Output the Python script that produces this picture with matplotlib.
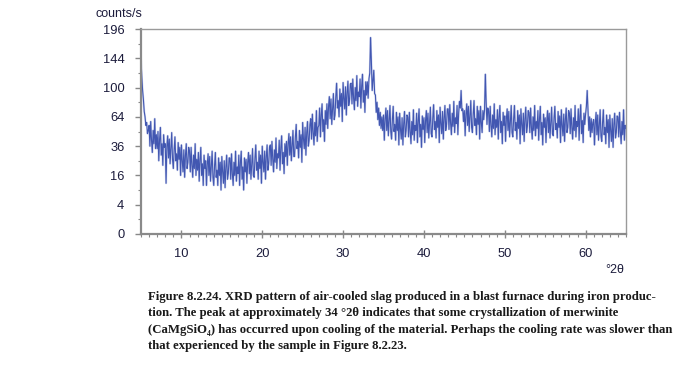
import numpy as np
import matplotlib
matplotlib.use("Agg")
import matplotlib.pyplot as plt
from matplotlib.scale import FuncScale

# ---- data (counts/s, 0.1 deg steps from 5.0 to 65.0) ----
two_theta_start = 5.0
two_theta_step = 0.1
counts = [
    142, 115, 96, 84, 70, 64, 55, 58, 47, 50,        # 5
    55, 36, 59, 41, 31, 50, 38, 62, 34, 46,          # 6
    34, 49, 25, 42, 53, 29, 38, 22, 46, 35,          # 7
    38, 12, 36, 45, 27, 42, 23, 35, 48, 26,          # 8
    20, 33, 44, 25, 30, 19, 39, 26, 35, 16,          # 9
    37, 25, 18, 33, 15, 29, 38, 20, 24, 35,          # 10
    32, 18, 35, 22, 15, 29, 20, 38, 16, 26,          # 11
    19, 31, 13, 26, 35, 16, 23, 11, 29, 20,          # 12
    25, 11, 23, 30, 16, 28, 13, 22, 32, 15,          # 13
    11, 22, 31, 15, 19, 11, 27, 16, 24, 9,           # 14
    28, 18, 12, 25, 10, 21, 29, 14, 17, 27,          # 15
    27, 14, 30, 17, 11, 24, 16, 32, 13, 21,          # 16
    17, 29, 11, 24, 32, 14, 21, 9, 27, 18,           # 17
    26, 12, 24, 31, 17, 29, 14, 23, 34, 16,          # 18
    15, 27, 37, 19, 24, 14, 32, 20, 29, 12,          # 19
    36, 24, 18, 32, 14, 28, 37, 19, 23, 35,          # 20
    37, 22, 40, 26, 18, 33, 24, 43, 20, 30,          # 21
    27, 41, 19, 35, 45, 23, 31, 17, 38, 28,          # 22
    40, 22, 38, 47, 29, 44, 25, 37, 50, 28,          # 23
    28, 44, 56, 34, 40, 27, 50, 35, 46, 24,          # 24
    58, 42, 34, 53, 29, 48, 59, 36, 41, 56,          # 25
    62, 42, 67, 48, 37, 58, 45, 71, 40, 53,          # 26
    55, 74, 44, 66, 79, 49, 61, 40, 71, 56,          # 27
    79, 52, 76, 88, 62, 85, 56, 74, 92, 61,          # 28
    66, 88, 106, 74, 83, 64, 98, 76, 92, 59,         # 29
    107, 86, 73, 101, 66, 93, 109, 77, 84, 105,      # 30
    106, 79, 112, 86, 72, 100, 83, 117, 76, 94,      # 31
    88, 112, 74, 102, 119, 81, 96, 69, 108, 90,      # 32
    108, 86, 112, 121, 180, 139, 96, 110, 125, 92,   # 33
    90, 69, 81, 61, 74, 55, 69, 52, 64, 50,          # 34
    66, 41, 62, 74, 50, 71, 45, 61, 77, 49,          # 35
    42, 61, 76, 49, 56, 41, 69, 50, 64, 37,          # 36
    68, 51, 42, 63, 37, 57, 70, 44, 50, 66,          # 37
    64, 44, 69, 49, 38, 59, 46, 72, 41, 55,          # 38
    50, 68, 39, 60, 73, 44, 56, 35, 65, 51,          # 39
    63, 39, 60, 71, 48, 68, 43, 59, 75, 47,          # 40
    44, 63, 78, 51, 59, 43, 71, 53, 66, 39,          # 41
    75, 57, 47, 70, 42, 63, 77, 50, 56, 73,          # 42
    73, 51, 78, 57, 46, 68, 54, 82, 48, 63,          # 43
    57, 77, 46, 68, 82, 74, 96, 71, 73, 59,          # 44
    71, 45, 67, 79, 55, 76, 49, 66, 83, 53,          # 45
    48, 67, 83, 55, 62, 46, 76, 56, 71, 42,          # 46
    76, 58, 48, 71, 61, 72, 119, 81, 56, 74,         # 47
    71, 49, 76, 55, 44, 66, 52, 79, 46, 61,          # 48
    53, 72, 42, 64, 77, 48, 59, 38, 69, 55,          # 49
    65, 40, 62, 73, 50, 70, 44, 60, 77, 48,          # 50
    44, 62, 77, 50, 58, 42, 71, 52, 66, 38,          # 51
    73, 56, 46, 68, 40, 62, 75, 48, 54, 71,          # 52
    69, 48, 74, 53, 42, 64, 50, 77, 45, 59,          # 53
    52, 71, 41, 62, 76, 46, 58, 37, 67, 53,          # 54
    63, 39, 60, 71, 48, 68, 43, 59, 75, 47,          # 55
    45, 63, 76, 51, 57, 43, 70, 53, 65, 39,          # 56
    72, 55, 45, 67, 40, 61, 74, 48, 53, 71,          # 57
    68, 47, 73, 53, 42, 63, 50, 77, 44, 59,          # 58
    54, 73, 41, 65, 78, 47, 60, 39, 68, 56,          # 59
    67, 76, 96, 71, 50, 64, 44, 62, 48, 58,          # 60
    61, 37, 58, 69, 46, 66, 41, 56, 72, 45,          # 61
    40, 58, 72, 46, 53, 38, 66, 48, 61, 35,          # 62
    66, 50, 40, 62, 35, 56, 68, 43, 48, 65,          # 63
    64, 44, 69, 49, 38, 59, 46, 72, 41, 55,          # 64
    52,                                              # 65
]
two_theta = two_theta_start + two_theta_step * np.arange(len(counts))

y_ticks = [0, 4, 16, 36, 64, 100, 144, 196]
y_minor = [1, 9, 25, 49, 81, 121, 169]
x_ticks = [10, 20, 30, 40, 50, 60]

caption_lines = [
    "Figure 8.2.24. XRD pattern of air-cooled slag produced in a blast furnace during iron produc-",
    "tion. The peak at approximately 34 \u00b02\u03b8 indicates that some crystallization of merwinite",
    "(CaMgSiO\u2084) has occurred upon cooling of the material. Perhaps the cooling rate was slower than",
    "that experienced by the sample in Figure 8.2.23.",
]

# ---- figure ----
W, H = 681, 370
fig = plt.figure(figsize=(W / 100, H / 100), dpi=100)
ax = fig.add_axes([141 / W, 1 - 234 / H, (626 - 141) / W, (234 - 29) / H])

ax.plot(two_theta, counts, color="#8e9cd8", lw=1.5, alpha=0.4)
ax.plot(two_theta, counts, color="#3a50ae", lw=0.8, alpha=0.95)

ax.set_yscale(FuncScale(ax, (lambda v: np.sqrt(np.clip(v, 0, None)), lambda s: s ** 2)))
ax.set_ylim(0, 196)
ax.set_xlim(5, 65)

ax.set_yticks(y_ticks)
ax.set_yticks(y_minor, minor=True)
ax.set_xticks(x_ticks)
ax.set_xticks(np.arange(5, 66, 1), minor=True)

label_color = "#1c1c3c"
font = "Liberation Sans"
ax.set_yticklabels([str(v) for v in y_ticks], fontsize=9.3, family=font, color=label_color)
ax.set_xticklabels([str(v) for v in x_ticks], fontsize=9.3, family=font, color=label_color)

ax.tick_params(axis="both", which="major", direction="out", length=4, width=1.0,
               color="#888888", pad=8)
ax.tick_params(axis="both", which="minor", direction="out", length=2.5, width=0.8,
               color="#888888")
ax.tick_params(axis="x", which="major", direction="inout", length=6, pad=7)

for side in ["left", "bottom"]:
    ax.spines[side].set_color("#8a8a8a")
    ax.spines[side].set_linewidth(1.6)
for side in ["top", "right"]:
    ax.spines[side].set_color("#9a9a9a")
    ax.spines[side].set_linewidth(1.0)

fig.text(119 / W, 1 - 14 / H, "counts/s", fontsize=9.0, family=font, color=label_color,
         ha="center", va="center")
fig.text(615 / W, 1 - 270 / H, "\u00b02\u03b8", fontsize=9.0, family=font, color=label_color,
         ha="center", va="center")

ys = [297, 313, 330, 346]
for line, yy in zip(caption_lines, ys):
    fig.text(148 / W, 1 - yy / H, line, fontsize=9.2, family=["Liberation Serif", "DejaVu Serif"],
             fontweight="bold", color="#1a1a1a", ha="left", va="center")

fig.savefig("out.png", dpi=100, facecolor="white")
